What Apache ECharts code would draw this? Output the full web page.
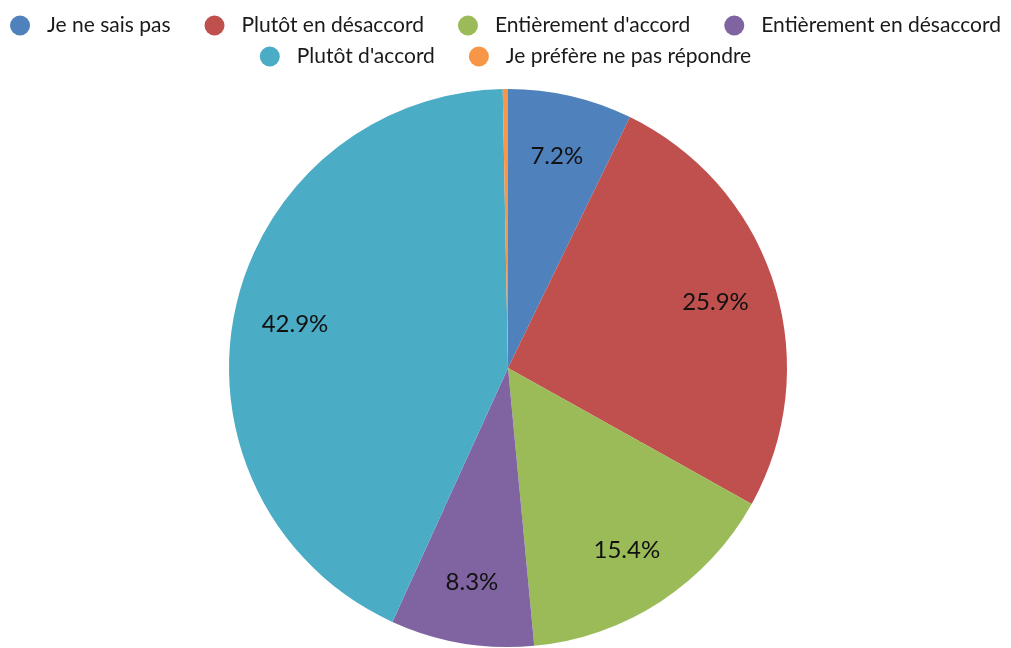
<!DOCTYPE html>
<html><head><meta charset="utf-8">
<script src="https://cdn.jsdelivr.net/npm/echarts@6/dist/echarts.min.js"></script>
<style>html,body{margin:0;padding:0;background:#fff}#c{width:1011px;height:648px}</style>
</head><body><div id="c"></div>
<script>
const categories = ["Je ne sais pas", "Plutôt en désaccord", "Entièrement d'accord", "Entièrement en désaccord", "Plutôt d'accord", "Je préfère ne pas répondre"];
const values = [7.2, 25.9, 15.4, 8.3, 42.9, 0.3];
const colors = ["#4F81BD", "#C0504D", "#9BBB59", "#8064A2", "#4BACC6", "#F79646"];
const legendRow1 = categories.slice(0, 4);
const legendRow2 = categories.slice(4);

const FONT = "Lato";
const data = categories.map((n, i) => ({ name: n, value: values[i], itemStyle: { color: colors[i] } }));
const legendBase = {
  left: 'center',
  icon: 'circle',
  itemWidth: 20, itemHeight: 20,
  itemGap: 34,
  textStyle: { fontFamily: FONT, fontSize: 21, color: '#1a1a1a', padding: [0, 0, 0, 12] }
};
const chart = echarts.init(document.getElementById('c'), null, { renderer: 'canvas' });
chart.setOption({
  animation: false,
  legend: [
    Object.assign({}, legendBase, { data: legendRow1, top: 10 }),
    Object.assign({}, legendBase, { data: legendRow2, top: 41 })
  ],
  series: [
    {
      type: 'pie', center: [508, 368], radius: [0, 152], startAngle: 90, clockwise: true,
      silent: true, label: { show: false }, labelLine: { show: false }, data: data
    },
    {
      type: 'pie', center: [508, 368], radius: [150, 279], startAngle: 90, clockwise: true,
      data: data,
      label: {
        show: true, position: 'inside',
        formatter: p => p.value >= 1 ? p.value.toFixed(1) + '%' : '',
        fontFamily: FONT, fontSize: 24, color: '#111'
      },
      labelLine: { show: false }
    }
  ]
});
</script></body></html>
